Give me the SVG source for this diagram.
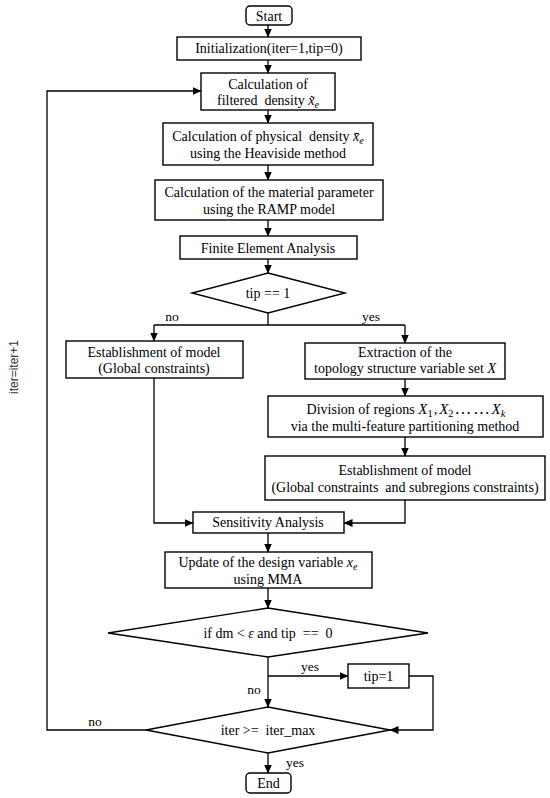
<svg xmlns="http://www.w3.org/2000/svg" width="550" height="798" viewBox="0 0 550 798">
<style>
.box{fill:#fff;stroke:#000;stroke-width:1.4}
.t{font-family:"Liberation Serif","Times New Roman",serif;font-size:14px;fill:#000;text-anchor:middle}
.lb{font-family:"Liberation Serif","Times New Roman",serif;font-size:13.5px;fill:#000;text-anchor:middle}
.ln{stroke:#000;stroke-width:1.3;fill:none}
.ar{stroke:#000;stroke-width:1.3;fill:none;marker-end:url(#ah)}
.i{font-style:italic}
</style>
<defs>
<marker id="ah" markerUnits="userSpaceOnUse" markerWidth="9" markerHeight="8" refX="8.5" refY="4" orient="auto">
<path d="M0,0 L9,4 L0,8 z" fill="#000"/>
</marker>
</defs>
<rect width="550" height="798" fill="#fff"/>
<g id="connectors">
<path class="ar" d="M268,25 V37"/>
<path class="ar" d="M268,60 V73"/>
<path class="ar" d="M147,730 H47 V91 H201"/>
<path class="ar" d="M268,110 V123"/>
<path class="ar" d="M268,165 V180"/>
<path class="ar" d="M268,220 V236"/>
<path class="ar" d="M268,259 V273"/>
<path class="ln" d="M268,313 V325 M154,325 H405"/>
<path class="ar" d="M154,325 V341"/>
<path class="ar" d="M405,325 V343"/>
<path class="ar" d="M405,379 V396"/>
<path class="ar" d="M405,437 V456"/>
<path class="ar" d="M405,500 V523 H344"/>
<path class="ar" d="M154,378 V523 H193"/>
<path class="ar" d="M268,533 V552"/>
<path class="ar" d="M268,588 V608"/>
<path class="ar" d="M268,657 V707"/>
<path class="ar" d="M268,676 H348"/>
<path class="ar" d="M409,676 H433 V730 H390"/>
<path class="ar" d="M268,753 V773"/>
<text class="lb" x="371" y="321">yes</text>
<text class="lb" x="172" y="321">no</text>
<text class="lb" x="310" y="671">yes</text>
<text class="lb" x="254" y="694">no</text>
<text class="lb" x="95" y="726">no</text>
<text class="lb" x="295" y="767">yes</text>
<text x="18" y="367" transform="rotate(-90 18 367)" font-family="'Liberation Sans',Arial,sans-serif" font-size="12" fill="#333" text-anchor="middle">iter=iter+1</text>
</g>
<g id="start">
<rect class="box" x="246" y="6" width="46" height="19" rx="4"/>
<text class="t" x="269" y="20.5">Start</text>
</g>
<g id="init">
<rect class="box" x="177" y="37" width="184" height="23"/>
<text class="t" x="269" y="53">Initialization(iter=1,tip=0)</text>
</g>
<g id="filtered">
<rect class="box" x="201" y="73" width="134" height="37"/>
<text class="t" x="268" y="88.5">Calculation of</text>
<text class="t" x="268" y="105" xml:space="preserve">filtered  density <tspan class="i">x̃</tspan><tspan class="i" font-size="10" dy="3">e</tspan></text>
</g>
<g id="physical">
<rect class="box" x="163" y="123" width="210" height="42"/>
<text class="t" x="268" y="141" xml:space="preserve">Calculation of physical  density <tspan class="i">x̄</tspan><tspan class="i" font-size="10" dy="3">e</tspan></text>
<text class="t" x="268" y="158">using the Heaviside method</text>
</g>
<g id="material">
<rect class="box" x="155" y="180" width="228" height="40"/>
<text class="t" x="269" y="197">Calculation of the material parameter</text>
<text class="t" x="269" y="214">using the RAMP model</text>
</g>
<g id="fea">
<rect class="box" x="180" y="236" width="177" height="23"/>
<text class="t" x="268" y="252.5">Finite Element Analysis</text>
</g>
<g id="tip-decision">
<polygon class="box" points="268,273 345,293 268,313 192,293"/>
<text class="t" x="268" y="298" font-size="15" xml:space="preserve">tip == 1</text>
</g>
<g id="global-model">
<rect class="box" x="66" y="341" width="177" height="37"/>
<text class="t" x="154" y="356.5">Establishment of model</text>
<text class="t" x="154" y="372.5">(Global constraints)</text>
</g>
<g id="extraction">
<rect class="box" x="305" y="343" width="200" height="36"/>
<text class="t" x="405" y="357">Extraction of the</text>
<text class="t" x="405" y="373">topology structure variable set <tspan class="i">X</tspan></text>
</g>
<g id="division">
<rect class="box" x="268" y="396" width="275" height="41"/>
<text class="t" x="406" y="414">Division of regions <tspan class="i" font-size="15">X</tspan><tspan font-size="10.5" dy="3">1</tspan><tspan dy="-3" dx="1">,</tspan><tspan class="i" font-size="15" dx="2">X</tspan><tspan font-size="10.5" dy="3">2</tspan><tspan dy="-3" dx="1" font-size="17" letter-spacing="1.5">……</tspan><tspan class="i" font-size="15">X</tspan><tspan class="i" font-size="10.5" dy="3">k</tspan></text>
<text class="t" x="405" y="431">via the multi-feature partitioning method</text>
</g>
<g id="sub-model">
<rect class="box" x="265" y="456" width="280" height="44"/>
<text class="t" x="405" y="474.5">Establishment of model</text>
<text class="t" x="405" y="491.5" xml:space="preserve">(Global constraints  and subregions constraints)</text>
</g>
<g id="sensitivity">
<rect class="box" x="193" y="512" width="151" height="21"/>
<text class="t" x="268" y="527">Sensitivity Analysis</text>
</g>
<g id="update">
<rect class="box" x="165" y="552" width="207" height="36"/>
<text class="t" x="268" y="567">Update of the design variable <tspan class="i">x</tspan><tspan class="i" font-size="10" dy="3">e</tspan></text>
<text class="t" x="268" y="584">using MMA</text>
</g>
<g id="dm-decision">
<polygon class="box" points="268,608 428,633 268,657 108,633"/>
<text class="t" x="268" y="638" xml:space="preserve">if dm &lt; <tspan class="i">ε</tspan> and tip  ==  0</text>
</g>
<g id="tip1">
<rect class="box" x="348" y="664" width="61" height="24"/>
<text class="t" x="378.5" y="681">tip=1</text>
</g>
<g id="iter-decision">
<polygon class="box" points="268,707 390,730 268,753 146,730"/>
<text class="t" x="268" y="735" xml:space="preserve">iter &gt;=  iter_max</text>
</g>
<g id="end">
<rect class="box" x="246" y="773" width="45" height="20" rx="4"/>
<text class="t" x="268.5" y="788">End</text>
</g>
</svg>
